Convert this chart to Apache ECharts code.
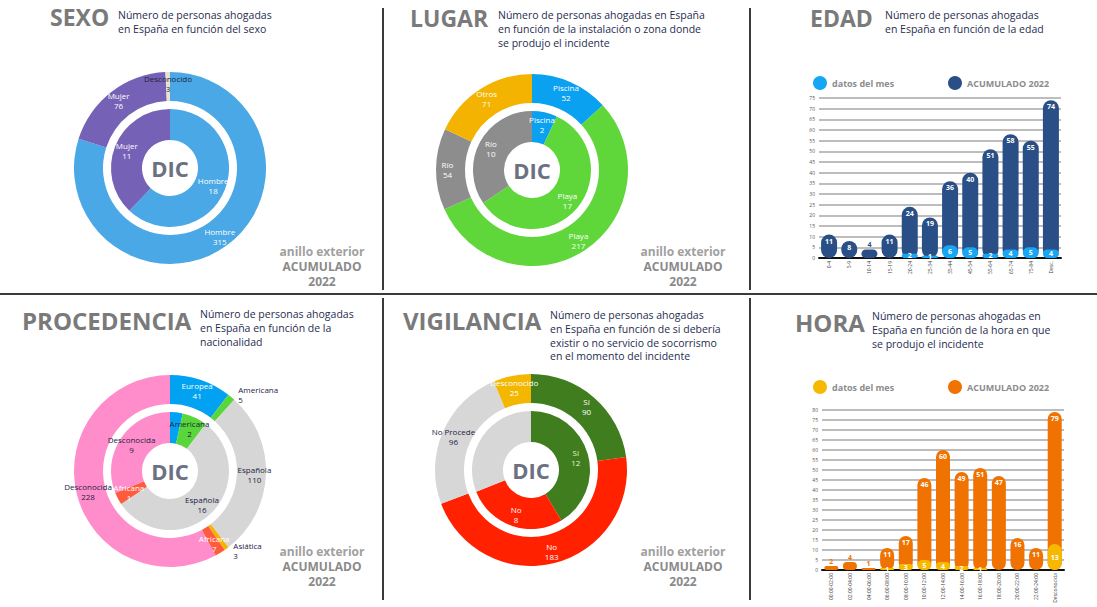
<!DOCTYPE html>
<html>
<head>
<meta charset="utf-8">
<script src="https://cdn.jsdelivr.net/npm/echarts@6/dist/echarts.min.js"></script>
<style>
    html, body { margin: 0; padding: 0; background: #fff; }
    #chart { width: 1097px; height: 607px; }
</style>
</head>
<body>
<div id="chart"></div>
<script>
// ---- datos ----
// SEXO
var sexoAcumNombres = ['Hombre', 'Mujer', 'Desconocido'];
var sexoAcum = [315, 76, 3];
var sexoMesNombres = ['Hombre', 'Mujer'];
var sexoMes = [18, 11];
// LUGAR
var lugarAcumNombres = ['Piscina', 'Playa', 'Río', 'Otros'];
var lugarAcum = [52, 217, 54, 71];
var lugarMesNombres = ['Piscina', 'Playa', 'Río'];
var lugarMes = [2, 17, 10];
// PROCEDENCIA
var procAcumNombres = ['Europea', 'Americana', 'Española', 'Asiática', 'Africana', 'Desconocida'];
var procAcum = [41, 5, 110, 3, 7, 228];
var procMesNombres = ['Europea', 'Americana', 'Española', 'Africana', 'Desconocida'];
var procMes = [1, 2, 16, 1, 9];
// VIGILANCIA
var vigAcumNombres = ['Sí', 'No', 'No Procede', 'Desconocido'];
var vigAcum = [90, 183, 96, 25];
var vigMesNombres = ['Sí', 'No', 'No Procede'];
var vigMes = [12, 8, 9];
// EDAD
var edadGrupos = ['0-4', '5-9', '10-14', '15-19', '20-24', '25-34', '35-44', '45-54', '55-64', '65-74', '75-84', 'Desc.'];
var edadMes = [0, 0, 0, 0, 2, 1, 6, 5, 2, 4, 5, 4];
var edadAcum = [11, 8, 4, 11, 24, 19, 36, 40, 51, 58, 55, 74];
// HORA
var horaTramos = ['00:00-02:00', '02:00-04:00', '04:00-06:00', '06:00-08:00', '08:00-10:00', '10:00-12:00',
    '12:00-14:00', '14:00-16:00', '16:00-18:00', '18:00-20:00', '20:00-22:00', '22:00-24:00', 'Desconocida'];
var horaMes = [0, 0, 0, 1, 3, 5, 4, 2, 1, 0, 0, 0, 13];
var horaAcum = [2, 4, 1, 11, 17, 46, 60, 49, 51, 47, 16, 11, 79];

var titulos = ['SEXO', 'LUGAR', 'EDAD', 'PROCEDENCIA', 'VIGILANCIA', 'HORA'];
var subtitulos = [
    'Número de personas ahogadas\nen España en función del sexo',
    'Número de personas ahogadas en España\nen función de la instalación o zona donde\nse produjo el incidente',
    'Número de personas ahogadas\nen España en función de la edad',
    'Número de personas ahogadas\nen España en función de la\nnacionalidad',
    'Número de personas ahogadas\nen España en función de si debería\nexistir o no servicio de socorrismo\nen el momento del incidente',
    'Número de personas ahogadas en\nEspaña en función de la hora en que\nse produjo el incidente'
];
var leyendaTexto = { edadMes: 'datos del mes', edadAcum: 'ACUMULADO 2022', horaMes: 'datos del mes', horaAcum: 'ACUMULADO 2022' };

// ---- estilos ----
var FONT = '"Open Sans", "Noto Sans", sans-serif';
var OSCURO = '#1c2344';
var coloresSexo = { 'Hombre': '#4aa8e6', 'Mujer': '#7561b6', 'Desconocido': '#e9e2cc' };
var coloresLugar = { 'Piscina': '#0ba1f1', 'Playa': '#5fd73b', 'Río': '#8d8d8d', 'Otros': '#f4b300' };
var coloresProc = {
    'Europea': '#02a2f2', 'Americana': '#58d63a', 'Española': '#d6d6d6', 'Asiática': '#f3b500',
    'Africana': '#ff5b3d', 'Desconocida': '#ff8dcb'
};
var coloresVig = { 'Sí': '#3f7d1f', 'No': '#ff2100', 'No Procede': '#d7d7d7', 'Desconocido': '#f3b700' };

function anillo(center, radius, nombres, valores, colores, oscuros, fuera, colorOverride) {
    return {
        type: 'pie',
        center: center,
        radius: radius,
        startAngle: 90,
        clockwise: true,
        silent: true,
        avoidLabelOverlap: false,
        minShowLabelAngle: 0,
        label: {
            show: true, position: 'inside', formatter: '{b}\n{c}',
            color: '#fff', fontSize: 8, lineHeight: 10, fontFamily: FONT
        },
        labelLine: { show: false, length: 3, length2: 0 },
        data: nombres.map(function (n, i) {
            var d = { name: n, value: valores[i], itemStyle: { color: colores[n] } };
            if (oscuros.indexOf(n) >= 0) d.label = { color: OSCURO };
            if (fuera.indexOf(n) >= 0) d.label = { color: OSCURO, position: 'outside' };
            if (colorOverride && colorOverride[n]) d.label = { color: colorOverride[n] };
            return d;
        })
    };
}

var RI = [28, 59], RE = [67, 96];
var centros = [[170, 168], [532, 170], [170, 471], [531, 470]];

var ocultarCero = function (p) { return p.value === 0 ? '' : p.value; };

function datosAcum(valores, colorLabel) {
    return valores.map(function (v) {
        if (v < 5) return { value: v, label: { position: 'top', color: colorLabel, distance: 1 } };
        return v;
    });
}

function seriesBarras(nombreMes, nombreAcum, mes, acum, cMes, cAcum, idx, ancho) {
    return [{
        type: 'bar', name: nombreAcum, xAxisIndex: idx, yAxisIndex: idx,
        data: datosAcum(acum, cAcum), barWidth: ancho, barGap: '-100%', z: 2,
        itemStyle: { color: cAcum, borderRadius: ancho / 2 },
        label: { show: true, position: 'insideTop', distance: 3, color: '#fff', fontSize: 7, fontWeight: 'bold', fontFamily: FONT }
    }, {
        type: 'bar', name: nombreMes, xAxisIndex: idx, yAxisIndex: idx,
        data: mes, barWidth: ancho, barGap: '-100%', z: 3,
        itemStyle: { color: cMes, borderRadius: ancho / 2 },
        label: { show: true, position: 'inside', color: '#fff', fontSize: 7, fontWeight: 'bold', fontFamily: FONT, formatter: ocultarCero }
    }];
}

function ejeY(idx, max) {
    return {
        type: 'value', gridIndex: idx, min: 0, max: max, interval: 5,
        axisLine: { show: false }, axisTick: { show: false },
        axisLabel: { fontSize: 5, color: '#555', margin: 4, fontFamily: FONT },
        splitLine: { lineStyle: { color: '#bdbdbd', width: 2 } }
    };
}
function ejeX(idx, cats) {
    return {
        type: 'category', gridIndex: idx, data: cats,
        axisLine: { lineStyle: { color: '#111', width: 2 } }, axisTick: { show: false },
        axisLabel: { rotate: 90, fontSize: 5, color: '#444', margin: 3, interval: 0, fontFamily: FONT }
    };
}
function leyenda(nombre, left, top) {
    return {
        data: [nombre], left: left, top: top, icon: 'circle', itemWidth: 14, itemHeight: 14,
        selectedMode: false, itemGap: 4,
        formatter: function (n) { return leyendaTexto[n]; },
        textStyle: { color: '#8c8c8c', fontWeight: 'bold', fontSize: 9, fontFamily: FONT }
    };
}

// ---- textos y separadores ----
var graficos = [];
function linea(x1, y1, x2, y2) {
    graficos.push({ type: 'line', silent: true, shape: { x1: x1, y1: y1, x2: x2, y2: y2 }, style: { stroke: '#3a3a3a', lineWidth: 2 } });
}
function texto(x, y, t, font, fill, align, vAlign, lh) {
    graficos.push({ type: 'text', silent: true, x: x, y: y, style: {
        text: t, font: font, fill: fill, textAlign: align || 'left', textVerticalAlign: vAlign || 'top', lineHeight: lh
    } });
}
linea(383, 8, 383, 290);
linea(750, 8, 750, 290);
linea(0, 294, 1097, 294);
linea(383, 298, 383, 600);
linea(750, 298, 750, 600);

var posTitulo = [[50, 17], [410, 18], [810, 18], [22, 320], [403, 320], [795, 322]];
var posSub = [[118, 8], [498, 8], [885, 8], [200, 307], [550, 308], [872, 309]];
var tamTitulo = [23, 23, 23, 24, 24, 24];
titulos.forEach(function (t, i) {
    texto(posTitulo[i][0], posTitulo[i][1], t, 'bold ' + tamTitulo[i] + 'px ' + FONT, '#7a7a7a', 'left', 'middle');
    texto(posSub[i][0], posSub[i][1], subtitulos[i], '10.5px ' + FONT, '#1f2d50', 'left', 'top', 13.8);
});
centros.forEach(function (c) {
    texto(c[0], c[1], 'DIC', 'bold 22px ' + FONT, '#6c7181', 'center', 'middle');
});
[[322, 251], [683, 251], [322, 551], [683, 551]].forEach(function (p) {
    texto(p[0], p[1], 'anillo exterior', 'bold 12px ' + FONT, '#a0a0a0', 'center', 'middle');
    texto(p[0], p[1] + 15, 'ACUMULADO', 'bold 12px ' + FONT, '#8a8a8a', 'center', 'middle');
    texto(p[0], p[1] + 30, '2022', 'bold 12px ' + FONT, '#8a8a8a', 'center', 'middle');
});

var option = {
    animation: false,
    backgroundColor: '#fff',
    textStyle: { fontFamily: FONT },
    legend: [
        leyenda('edadMes', 808, 71),
        leyenda('edadAcum', 943, 71),
        leyenda('horaMes', 808, 375),
        leyenda('horaAcum', 943, 375)
    ],
    grid: [
        { left: 819, top: 98, width: 242, height: 160, containLabel: false, outerBoundsMode: 'none' },
        { left: 822, top: 410, width: 242, height: 160, containLabel: false, outerBoundsMode: 'none' }
    ],
    xAxis: [ejeX(0, edadGrupos), ejeX(1, horaTramos)],
    yAxis: [ejeY(0, 75), ejeY(1, 80)],
    series: [
        anillo(centros[0], RI, sexoMesNombres, sexoMes, coloresSexo, [], []),
        anillo(centros[0], RE, sexoAcumNombres, sexoAcum, coloresSexo, ['Desconocido'], []),
        anillo(centros[1], RI, lugarMesNombres, lugarMes, coloresLugar, [], []),
        anillo(centros[1], RE, lugarAcumNombres, lugarAcum, coloresLugar, [], []),
        anillo(centros[2], RI, procMesNombres, procMes, coloresProc, ['Americana', 'Española', 'Desconocida'], []),
        anillo(centros[2], RE, procAcumNombres, procAcum, coloresProc, ['Española', 'Desconocida'], ['Americana', 'Asiática']),
        anillo(centros[3], RI, vigMesNombres, vigMes, coloresVig, ['No Procede'], [], { 'Sí': '#eef2c8' }),
        anillo(centros[3], RE, vigAcumNombres, vigAcum, coloresVig, ['No Procede'], [])
    ].concat(
        seriesBarras('edadMes', 'edadAcum', edadMes, edadAcum, '#17a6f4', '#2a4f87', 0, 16),
        seriesBarras('horaMes', 'horaAcum', horaMes, horaAcum, '#f6b900', '#f07200', 1, 14)
    ),
    graphic: graficos
};

var myChart = echarts.init(document.getElementById('chart'), null, { renderer: 'svg' });
myChart.setOption(option);
</script>
</body>
</html>
